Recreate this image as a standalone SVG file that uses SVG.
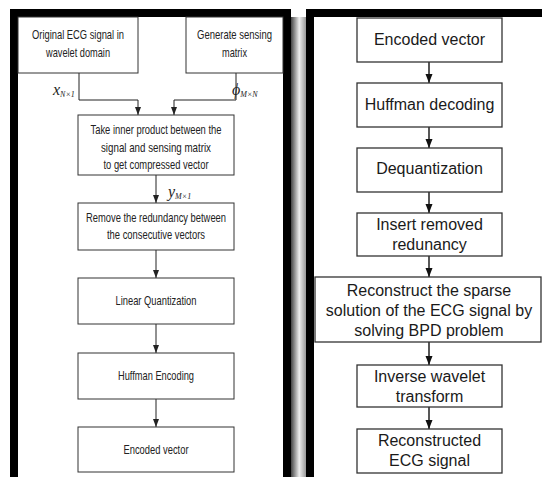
<svg xmlns="http://www.w3.org/2000/svg" width="542" height="477" viewBox="0 0 542 477">
<defs>
<marker id="ah" markerWidth="8" markerHeight="8" refX="8" refY="4" orient="auto" markerUnits="userSpaceOnUse" viewBox="0 0 8 8">
<path d="M0,1 L8,4 L0,7 Z" fill="#222"/>
</marker>
<marker id="ah2" markerWidth="9" markerHeight="9" refX="9" refY="4.5" orient="auto" markerUnits="userSpaceOnUse" viewBox="0 0 9 9">
<path d="M0,1 L9,4.5 L0,8 Z" fill="#111"/>
</marker>
<linearGradient id="shadow" x1="0" y1="0" x2="1" y2="0">
<stop offset="0" stop-color="#444"/>
<stop offset="0.55" stop-color="#eeeeee"/>
<stop offset="1" stop-color="#999"/>
</linearGradient>
</defs>
<style>
.frame{fill:#fff;stroke:#000;stroke-width:8}
.lb{fill:#fff;stroke:#333;stroke-width:1}
.rb{fill:#fff;stroke:#333;stroke-width:1.3}
.lt{font-family:"Liberation Sans",Arial,sans-serif;font-size:13px;fill:#222;text-anchor:middle}
.rt{font-family:"Liberation Sans",Arial,sans-serif;font-size:16px;fill:#1a1a1a;text-anchor:middle}
.m{font-family:"Liberation Serif","Times New Roman",serif;font-style:italic;fill:#222}
.cl{fill:none;stroke:#222;stroke-width:1;marker-end:url(#ah)}
.cr{fill:none;stroke:#111;stroke-width:1.4;marker-end:url(#ah2)}
</style>
<rect x="0" y="0" width="542" height="477" fill="#fff"/>
<rect x="291" y="17" width="15" height="460" fill="url(#shadow)"/>
<rect class="frame" x="14" y="13" width="273" height="468"/>
<rect class="frame" x="310" y="13" width="240" height="468"/>

<g id="left-connectors">
<path class="cl" d="M79,73 V100 H138 V115"/>
<path class="cl" d="M236,73 V100 H174 V115"/>
<path class="cl" d="M156,175 V203"/>
<path class="cl" d="M156,250 V278"/>
<path class="cl" d="M156,324 V353"/>
<path class="cl" d="M156,399 V427"/>
</g>
<g id="left-labels">
<text class="m" x="53" y="95" font-size="16">x<tspan font-size="8" dy="2">N×1</tspan></text>
<text class="m" x="232" y="95" font-size="16">ϕ<tspan font-size="8" dy="2">M×N</tspan></text>
<text class="m" x="168" y="197" font-size="16">y<tspan font-size="8" dy="2">M×1</tspan></text>
</g>

<g id="l-original">
<rect class="lb" x="18" y="17" width="120" height="56"/>
<text class="lt" x="78" y="39" textLength="92" lengthAdjust="spacingAndGlyphs">Original ECG signal in</text>
<text class="lt" x="78" y="57" textLength="64" lengthAdjust="spacingAndGlyphs">wavelet domain</text>
</g>
<g id="l-generate">
<rect class="lb" x="186" y="17" width="97" height="56"/>
<text class="lt" x="234.5" y="39" textLength="75" lengthAdjust="spacingAndGlyphs">Generate sensing</text>
<text class="lt" x="234.5" y="57" textLength="25" lengthAdjust="spacingAndGlyphs">matrix</text>
</g>
<g id="l-inner">
<rect class="lb" x="78" y="115" width="156" height="60"/>
<text class="lt" x="156" y="134" textLength="131" lengthAdjust="spacingAndGlyphs">Take inner product between the</text>
<text class="lt" x="156" y="152" textLength="110" lengthAdjust="spacingAndGlyphs">signal and sensing matrix</text>
<text class="lt" x="156" y="169" textLength="105" lengthAdjust="spacingAndGlyphs">to get compressed vector</text>
</g>
<g id="l-remove">
<rect class="lb" x="78" y="203" width="156" height="47"/>
<text class="lt" x="156" y="222" textLength="140" lengthAdjust="spacingAndGlyphs">Remove the redundancy between</text>
<text class="lt" x="156" y="239" textLength="98" lengthAdjust="spacingAndGlyphs">the consecutive vectors</text>
</g>
<g id="l-quant">
<rect class="lb" x="78" y="278" width="156" height="46"/>
<text class="lt" x="156" y="305" textLength="81" lengthAdjust="spacingAndGlyphs">Linear Quantization</text>
</g>
<g id="l-huff">
<rect class="lb" x="78" y="353" width="156" height="46"/>
<text class="lt" x="156" y="380" textLength="76" lengthAdjust="spacingAndGlyphs">Huffman Encoding</text>
</g>
<g id="l-encoded">
<rect class="lb" x="78" y="427" width="156" height="45"/>
<text class="lt" x="156" y="454" textLength="65" lengthAdjust="spacingAndGlyphs">Encoded vector</text>
</g>

<g id="right-connectors">
<path class="cr" d="M429,62 V83"/>
<path class="cr" d="M429,127 V148"/>
<path class="cr" d="M429,192 V213"/>
<path class="cr" d="M429,256 V277"/>
<path class="cr" d="M429,342 V365"/>
<path class="cr" d="M429,407 V429"/>
</g>
<g id="r-encoded">
<rect class="rb" x="357" y="18" width="145" height="44"/>
<text class="rt" x="429.5" y="45">Encoded vector</text>
</g>
<g id="r-huff">
<rect class="rb" x="357" y="83" width="145" height="44"/>
<text class="rt" x="429.5" y="110">Huffman decoding</text>
</g>
<g id="r-dequant">
<rect class="rb" x="357" y="148" width="145" height="44"/>
<text class="rt" x="429.5" y="174">Dequantization</text>
</g>
<g id="r-insert">
<rect class="rb" x="357" y="213" width="145" height="43"/>
<text class="rt" x="429.5" y="230">Insert removed</text>
<text class="rt" x="429.5" y="250">redunancy</text>
</g>
<g id="r-reconstruct">
<rect class="rb" x="315" y="277" width="226" height="65"/>
<text class="rt" x="429" y="296">Reconstruct the sparse</text>
<text class="rt" x="429" y="316">solution of the ECG signal by</text>
<text class="rt" x="429" y="336">solving BPD problem</text>
</g>
<g id="r-inverse">
<rect class="rb" x="357" y="365" width="145" height="42"/>
<text class="rt" x="429.5" y="382">Inverse wavelet</text>
<text class="rt" x="429.5" y="402">transform</text>
</g>
<g id="r-recon-ecg">
<rect class="rb" x="357" y="429" width="145" height="44"/>
<text class="rt" x="429.5" y="446">Reconstructed</text>
<text class="rt" x="429.5" y="466">ECG signal</text>
</g>
</svg>
